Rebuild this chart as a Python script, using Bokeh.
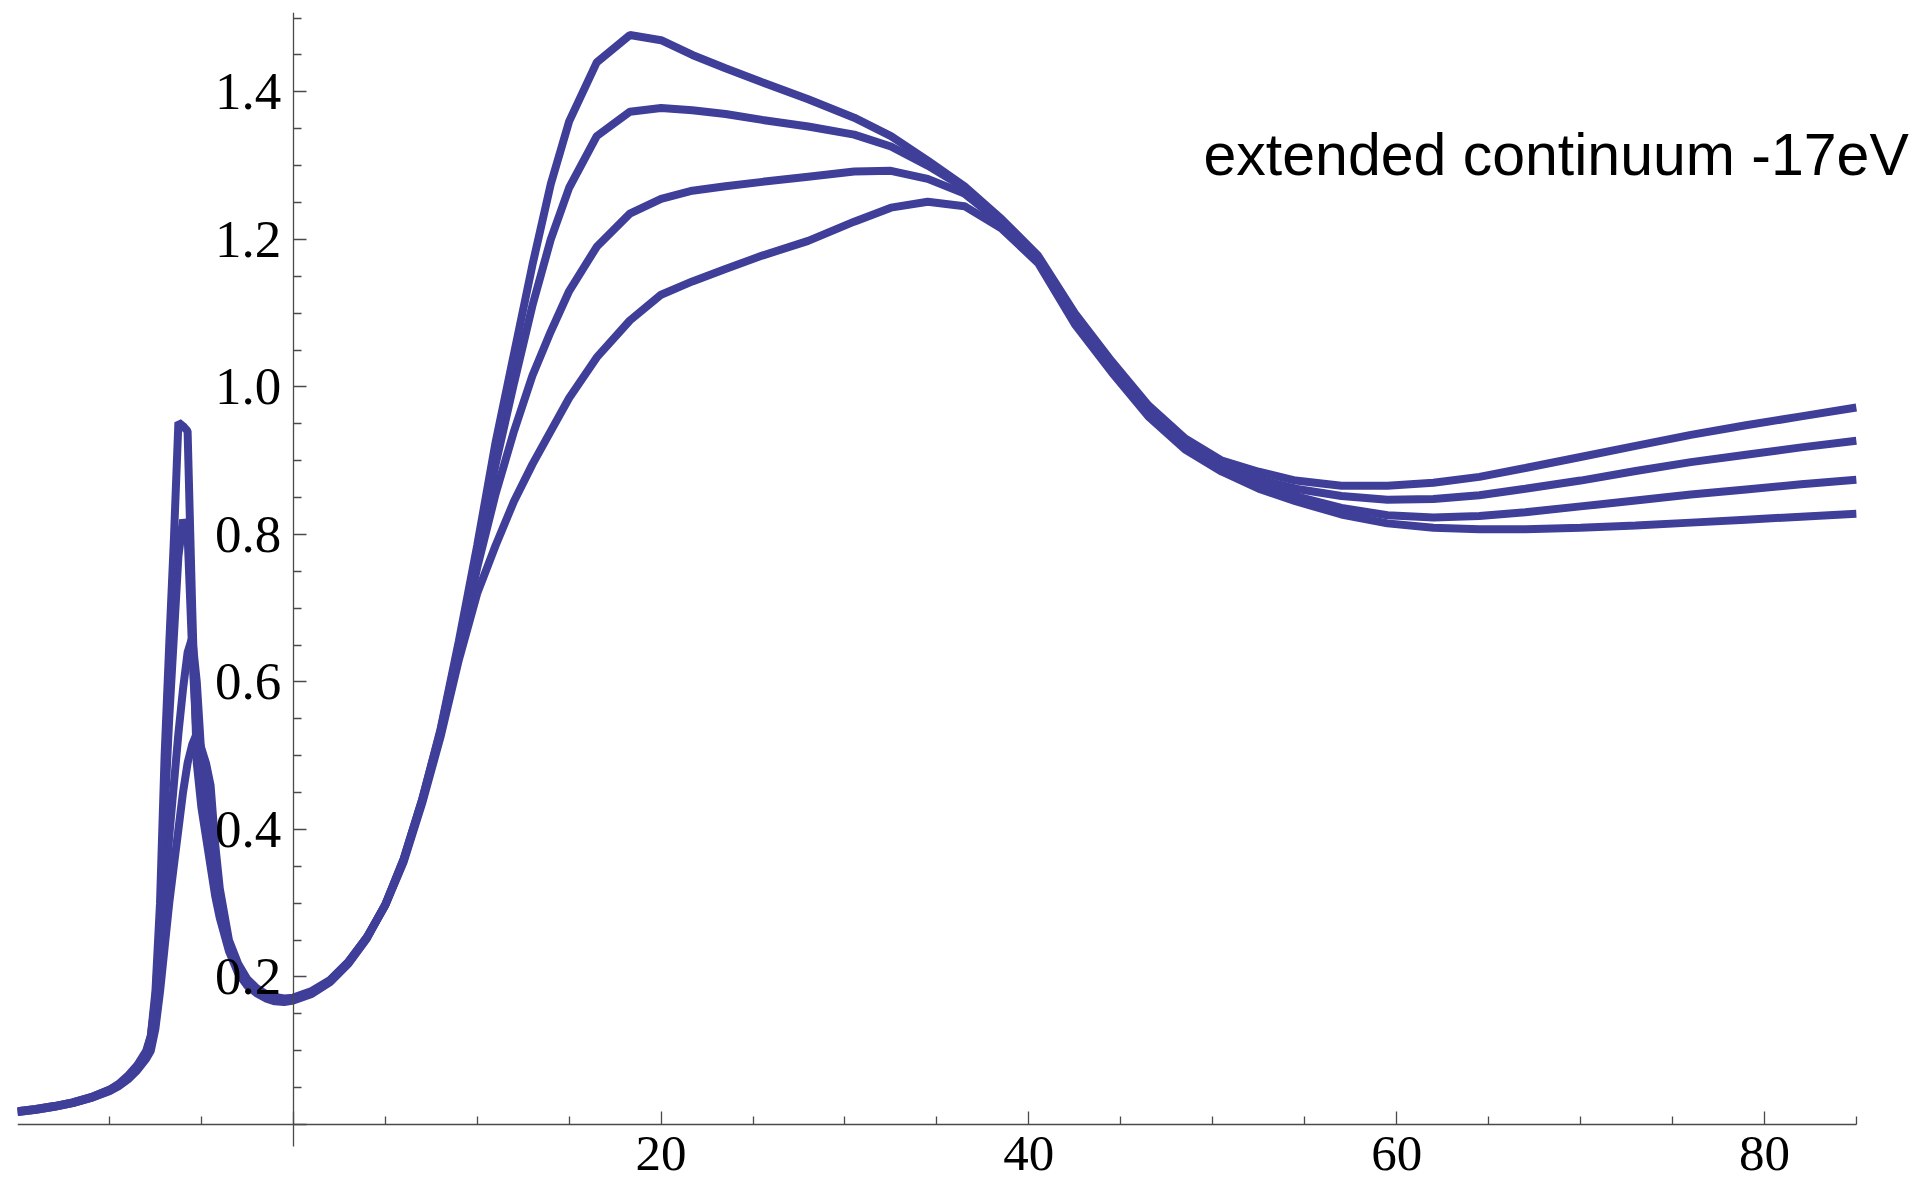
from bokeh.plotting import figure
from bokeh.models import Range1d, LinearAxis, FixedTicker, PrintfTickFormatter, Label
from bokeh.embed import file_html
from bokeh.resources import INLINE

# energy grid (x) shared by the four spectra
energy = [-15, -14, -13, -12, -11, -10, -9.5, -9, -8.5, -8,
          -7.75, -7.5, -7.25, -7, -6.75, -6.5, -6.25, -6, -5.75, -5.5, -5.25, -5, -4.75, -4.5, -4.25, -4,
          -3.5, -3, -2.5, -2, -1.5, -1, -0.5, 0, 1, 2, 3, 4, 5, 6, 7,
          8, 9, 10, 11, 12, 13, 14, 15, 16.5,
          18.3, 20, 21.7, 23.5, 25.5, 28, 30.5, 32.5, 34.5, 36.5, 38.5, 40.5,
          42.5, 44.5, 46.5, 48.5, 50.5, 52.5, 54.5, 57, 59.5, 62, 64.5, 67, 70, 73, 76, 79, 82, 85]

curve_a = [0.018, 0.021, 0.025, 0.030, 0.037, 0.047, 0.055, 0.066, 0.080, 0.100,
           0.12, 0.18, 0.30, 0.50, 0.65, 0.79, 0.952, 0.947, 0.94, 0.70, 0.49, 0.43, 0.39, 0.35, 0.31, 0.28,
           0.235, 0.205, 0.188, 0.178, 0.171, 0.167, 0.166, 0.168, 0.177, 0.193, 0.218, 0.252, 0.298, 0.36, 0.44,
           0.535, 0.655, 0.785, 0.925, 1.045, 1.165, 1.275, 1.36, 1.44,
           1.477, 1.47, 1.45, 1.432, 1.413, 1.39, 1.365, 1.34, 1.307, 1.272, 1.228, 1.178,
           1.10, 1.035, 0.975, 0.93, 0.90, 0.885, 0.873, 0.866, 0.866, 0.87, 0.878, 0.89, 0.905, 0.92, 0.935, 0.948, 0.96, 0.972]

curve_b = [0.018, 0.021, 0.025, 0.030, 0.037, 0.047, 0.054, 0.065, 0.079, 0.097,
           0.12, 0.17, 0.27, 0.42, 0.55, 0.66, 0.77, 0.82, 0.80, 0.64, 0.52, 0.45, 0.41, 0.37, 0.33, 0.29,
           0.24, 0.21, 0.19, 0.18, 0.173, 0.169, 0.167, 0.169, 0.178, 0.194, 0.219, 0.253, 0.298, 0.36, 0.44,
           0.533, 0.65, 0.775, 0.895, 1.005, 1.11, 1.20, 1.27, 1.34,
           1.373, 1.378, 1.375, 1.37, 1.362, 1.353, 1.342, 1.326, 1.30, 1.27, 1.225, 1.175,
           1.095, 1.03, 0.97, 0.925, 0.895, 0.875, 0.862, 0.852, 0.847, 0.848, 0.853, 0.862, 0.873, 0.886, 0.898, 0.908, 0.918, 0.927]

curve_c = [0.017, 0.020, 0.024, 0.029, 0.036, 0.046, 0.053, 0.063, 0.076, 0.093,
           0.11, 0.15, 0.22, 0.31, 0.39, 0.46, 0.53, 0.59, 0.64, 0.66, 0.60, 0.50, 0.44, 0.40, 0.35, 0.30,
           0.245, 0.214, 0.194, 0.182, 0.175, 0.171, 0.169, 0.170, 0.179, 0.195, 0.22, 0.254, 0.298, 0.358, 0.438,
           0.53, 0.64, 0.755, 0.855, 0.94, 1.015, 1.075, 1.13, 1.19,
           1.235, 1.255, 1.266, 1.272, 1.278, 1.285, 1.292, 1.293, 1.282, 1.262, 1.222, 1.172,
           1.09, 1.025, 0.965, 0.92, 0.89, 0.868, 0.852, 0.836, 0.826, 0.823, 0.825, 0.83, 0.838, 0.846, 0.854, 0.861, 0.868, 0.874]

curve_d = [0.017, 0.020, 0.024, 0.029, 0.036, 0.045, 0.052, 0.061, 0.073, 0.089,
           0.10, 0.13, 0.18, 0.24, 0.30, 0.35, 0.40, 0.45, 0.49, 0.515, 0.53, 0.51, 0.49, 0.46, 0.38, 0.32,
           0.25, 0.218, 0.197, 0.185, 0.177, 0.173, 0.171, 0.172, 0.181, 0.196, 0.221, 0.254, 0.297, 0.356, 0.435,
           0.525, 0.63, 0.72, 0.785, 0.845, 0.895, 0.94, 0.985, 1.04,
           1.09, 1.125, 1.143, 1.16, 1.178, 1.198, 1.224, 1.243, 1.251, 1.245, 1.215, 1.168,
           1.085, 1.02, 0.96, 0.915, 0.885, 0.862, 0.845, 0.827, 0.815, 0.809, 0.807, 0.807, 0.809, 0.812, 0.816, 0.82, 0.824, 0.828]

x_major = [0, 20, 40, 60, 80]
x_minor = [-10, -5, 5, 10, 15, 25, 30, 35, 45, 50, 55, 65, 70, 75, 85]
y_major = [0, 0.2, 0.4, 0.6, 0.8, 1.0, 1.2, 1.4]
y_minor = [0.05, 0.1, 0.15, 0.25, 0.3, 0.35, 0.45, 0.5, 0.55, 0.65, 0.7, 0.75,
           0.85, 0.9, 0.95, 1.05, 1.1, 1.15, 1.25, 1.3, 1.35, 1.45, 1.5]
annotation = "extended continuum -17eV"

LINE = "#3f3f99"
AXIS = "#4a4a4a"

p = figure(frame_width=1894, frame_height=1173,
           x_range=Range1d(-15, 88), y_range=Range1d(-0.0827, 1.5076),
           x_axis_type=None, y_axis_type=None,
           output_backend="svg", toolbar_location=None,
           min_border_left=17, min_border_right=0, min_border_top=12, min_border_bottom=0)
p.outline_line_color = None
p.background_fill_color = "white"
p.border_fill_color = "white"

for ys in (curve_d, curve_c, curve_b, curve_a):
    p.line(energy, ys, line_width=8, line_color=LINE, line_join="bevel", line_cap="butt")

def style(ax):
    ax.axis_line_color = AXIS
    ax.axis_line_width = 1.3
    ax.major_tick_line_color = AXIS
    ax.minor_tick_line_color = AXIS
    ax.major_tick_line_width = 1.3
    ax.minor_tick_line_width = 1.3
    ax.major_tick_in = 13
    ax.major_tick_out = 0
    ax.minor_tick_in = 8
    ax.minor_tick_out = 0
    ax.major_label_text_font = "Liberation Serif"
    ax.major_label_text_font_size = "53px"
    ax.major_label_text_color = "black"

xaxis = LinearAxis(fixed_location=0, bounds=(-15, 85),
                   ticker=FixedTicker(ticks=x_major, minor_ticks=x_minor),
                   formatter=PrintfTickFormatter(format="%d"))
style(xaxis)
xaxis.major_label_text_font_size = "51px"
xaxis.major_label_overrides = {0: ""}
xaxis.major_label_standoff = 12
p.add_layout(xaxis, "below")

yaxis = LinearAxis(fixed_location=0, bounds=(-0.0304, 1.5076),
                   ticker=FixedTicker(ticks=y_major, minor_ticks=y_minor),
                   formatter=PrintfTickFormatter(format="%.1f"))
style(yaxis)
yaxis.major_label_overrides = {0: ""}
yaxis.major_label_standoff = 12
p.add_layout(yaxis, "left")

p.add_layout(Label(x=49.5, y=1.314, text=annotation, text_font="Liberation Sans",
                   text_font_size="59px", text_color="black", text_baseline="alphabetic"))

open("out.html", "w").write(file_html(p, INLINE))
